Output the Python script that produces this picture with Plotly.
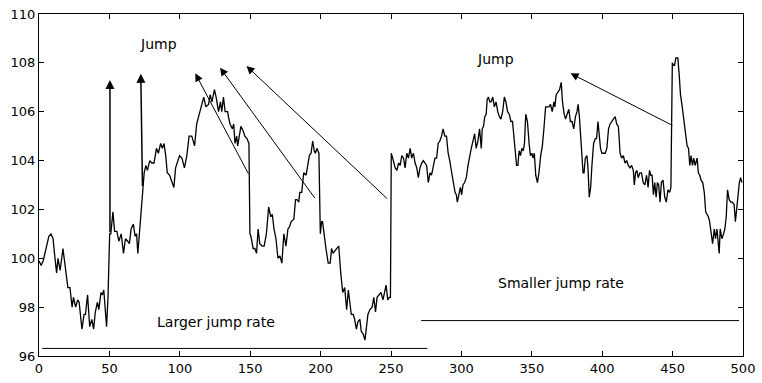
import plotly.graph_objects as go

# Simulated price path with jumps, stored in time segments
t1 = [0, 1.5, 3, 5, 7, 8.5, 10, 11, 12.5, 13.5,
      15, 17, 18.5, 20.5, 22, 23.5, 24.5, 26, 27.5, 28.5,
      30.5, 32, 33, 34.5, 36, 37.5, 38.8, 40, 41.5, 42.5,
      44, 45, 46, 47, 48, 49, 49.6]
p1 = [99.9, 99.7, 99.9, 100.4, 100.9, 101.0, 100.8, 100.2, 99.4, 100.0,
      99.5, 100.4, 99.7, 98.8, 98.8, 98.0, 98.4, 98.0, 98.3, 98.2,
      97.1, 97.7, 97.7, 98.5, 97.2, 97.5, 97.1, 97.8, 98.2, 97.9,
      98.6, 98.5, 98.7, 98.1, 97.2, 98.4, 99.7]

t2 = [50.2, 51, 52.5, 53.7, 55.3, 56.7, 58.4, 60, 61.4, 63,
      64.2, 65.4, 67, 68.3, 69.3, 70.2, 71.2, 72.3, 73.5, 74.7,
      75.9, 77, 78.7, 80.1, 81.7, 83.4, 84.8, 86.4, 87.6, 88.8,
      90, 91.1, 92.8, 94.2, 95.8, 97, 98.2, 99.8, 101.5, 103.3,
      105, 106.6, 108.5, 110.5, 112, 113, 115.3, 117, 118.5, 120.4,
      121.6, 122.8, 124.6, 125.8, 127.5, 128.9, 129.8, 131, 132.2, 134,
      134.5, 135.7, 137.3, 138.3, 139.2, 140.4, 141.1, 142.3, 143.4, 145.1,
      146.2, 147.7, 149.1]
p2 = [101.0, 101.0, 101.9, 101.1, 101.1, 100.7, 101.0, 100.2, 100.8, 100.7,
      100.6, 101.2, 101.4, 100.9, 101.0, 100.2, 101.0, 101.7, 102.5, 103.5,
      103.8, 103.6, 104.0, 103.9, 103.9, 104.5, 104.3, 104.7, 104.5, 104.7,
      104.2, 103.5, 103.4, 103.2, 102.9, 103.7, 103.9, 104.2, 104.1, 103.7,
      104.2, 105.0, 105.0, 104.6, 105.5, 105.7, 106.2, 106.6, 106.2, 106.3,
      106.7, 106.4, 106.9, 106.6, 106.0, 106.4, 106.0, 106.6, 106.0, 106.0,
      105.8, 105.5, 105.3, 105.5, 104.7, 105.0, 104.6, 105.0, 105.4, 105.2,
      105.0, 104.9, 104.7]

t3 = [149.8, 150.5, 152.1, 153.3, 154.5, 155.6, 156.8, 158.5, 159.9, 161.5,
      163.1, 164.6, 165.7, 166.9, 168.3, 169.7, 171.1, 172.5, 173.9, 175.4,
      176.8, 178, 179.1, 181, 182.2, 183.3, 184.5, 185.2, 186.6, 188,
      189.7, 190.8, 192, 193.2, 194.4, 195.5, 196.3, 197.4, 198.8, 199.8,
      200.7, 201.4, 202.6, 203.8, 205.4, 206.8, 207.8, 208.9, 210.1, 211.5,
      212.9, 214.3, 215.7, 217.1, 218.5, 219.7, 220.9, 221.8, 223.2, 224.2,
      225.4, 226.5, 227.9, 228.9, 230.3, 231.5, 232.4, 233.6, 235, 236.6,
      237.8, 239, 240.1, 241.5, 242.9, 244.3, 245.3, 246.5, 247.7, 248.8,
      249.6]
p3 = [101.0, 100.9, 100.4, 100.4, 100.2, 101.2, 100.6, 100.5, 100.5, 101.0,
      102.1, 101.7, 101.8, 101.2, 100.8, 100.0, 100.1, 99.8, 101.0, 100.5,
      101.2, 101.3, 101.5, 101.6, 102.4, 102.4, 102.3, 102.7, 102.7, 103.5,
      103.4, 103.8, 104.2, 104.3, 104.8, 104.4, 104.3, 104.5, 104.3, 101.0,
      101.5, 101.5, 100.8, 100.4, 99.8, 99.8, 100.4, 100.2, 100.3, 100.4,
      100.5, 99.4, 98.6, 98.8, 97.9, 98.7, 98.2, 97.7, 97.7, 97.5,
      97.1, 97.4, 97.5, 97.0, 96.9, 96.65, 97.1, 97.7, 97.9, 98.0,
      98.4, 97.8, 98.4, 98.5, 98.6, 98.3, 98.6, 98.9, 98.3, 98.4,
      98.4]

t4 = [250.2, 251.2, 253, 254.2, 255.4, 256.5, 257.7, 258.9, 260, 261.2,
      262.4, 263.6, 264.7, 265.9, 267.1, 268.3, 269.4, 270.6, 271.8, 273,
      274.1, 275.3, 276.5, 277.7, 278.8, 280, 281.2, 282.4, 283.5, 284.7,
      285.9, 287, 288.2, 289.4, 290.6, 291.7, 292.9, 293.6, 294.6, 295.5,
      296.4, 297.1, 298.3, 299.3, 300.2, 301.1, 302.3, 303.5, 304.7, 305.8,
      307, 308.2, 309.4, 310.5, 311.7, 312.9, 314.1, 314.8, 315.7, 316.6,
      317.6, 318.3, 319.2, 320.2, 321.1, 322.3, 323.4, 324.6, 325.8, 327,
      328.1, 329.3, 330.5, 331.6, 332.8, 334, 335.2, 336.3, 337.5, 338.2,
      339.2]
p4 = [104.3, 104.1, 103.7, 103.6, 103.9, 103.8, 104.2, 104.1, 103.7, 104.3,
      104.1, 104.5, 104.1, 104.3, 103.9, 103.7, 103.3, 103.7, 103.9, 104.0,
      103.9, 103.8, 103.1, 103.5, 103.4, 103.8, 104.1, 104.1, 104.7, 104.8,
      105.0, 105.3, 105.0, 105.0, 104.3, 104.0, 103.5, 103.3, 103.0, 102.7,
      102.6, 102.3, 102.7, 102.9, 102.6, 103.0, 103.1, 103.3, 103.8, 104.2,
      104.5, 104.8, 105.1, 104.5, 104.8, 105.3, 104.5, 105.3, 105.4, 105.8,
      105.9, 106.5, 106.6, 106.4, 106.4, 106.6, 106.2, 106.4, 106.0, 105.8,
      105.7, 106.0, 106.6, 106.4, 106.0, 105.9, 105.6, 105.6, 104.7, 104.2,
      103.8]

t5 = [340.1, 341, 342, 342.9, 343.9, 344.8, 345.7, 346.9, 348.1, 349,
      350, 350.9, 351.8, 352.8, 354, 355.1, 356.3, 357.5, 358.6, 359.8,
      361, 362.2, 363.3, 364.5, 365.7, 366.4, 367.3, 368.7, 369.7, 370.9,
      371.8, 373, 374, 375.1, 376.3, 377.4, 378.6, 379.8, 381, 382.1,
      382.9, 383.8, 384.7, 385.7, 386.4, 387.1, 388, 389.2, 389.9, 390.8,
      391.8, 392.7, 393.9, 395.1, 396, 397, 397.9, 398.8, 399.8, 401,
      402.1, 403.3, 404.5, 405.6, 406.8, 408, 409.2, 410.3, 411.5, 412.7,
      413.8, 415, 416.2, 417.4, 418.5, 419.7, 420.9, 422.1, 422.8, 423.7,
      424.6, 425.6, 426.8, 427.9, 429.1, 430.3, 431.5, 432.6, 433.6, 434.5,
      435.4, 436.4, 437.3, 438.3, 439.2, 440.1, 441.1, 442, 443.2, 444.4,
      445.5, 446.7, 447.9, 448.8]
p5 = [103.8, 104.4, 104.2, 104.5, 104.4, 104.7, 105.9, 105.6, 104.7, 104.2,
      104.3, 104.1, 104.3, 103.4, 103.1, 103.5, 104.2, 104.6, 105.3, 106.2,
      106.2, 106.2, 106.3, 106.0, 106.4, 106.2, 106.7, 106.8, 106.9, 107.2,
      106.4, 105.9, 105.7, 105.9, 106.1, 105.6, 105.6, 105.3, 105.8, 106.0,
      106.3, 105.8, 105.1, 104.1, 103.5, 103.5, 104.1, 104.2, 103.7, 102.5,
      102.9, 103.8, 104.7, 104.9, 104.9, 105.6, 104.9, 104.5, 104.3, 104.3,
      104.3, 104.5, 105.3, 105.5, 105.6, 105.7, 105.8, 105.5, 105.4, 104.3,
      104.1, 104.2, 103.9, 104.0, 103.8, 103.7, 103.8, 103.6, 103.0, 103.5,
      103.6, 103.3, 103.5, 103.5, 103.1, 103.0, 103.4, 102.9, 103.6, 103.4,
      103.4, 102.6, 103.1, 102.5, 103.1, 103.0, 102.3, 103.1, 103.2, 102.5,
      102.3, 102.8, 102.7, 102.9]

t6 = [449.3, 449.8, 450.5, 451.4, 452.3, 453.7, 454.7, 455.6, 456.6, 457.5,
      458.4, 459.4, 460.3, 461.3, 462.2, 463.1, 464.1, 465, 466, 467.4,
      468.3, 469.3, 470.2, 471.4, 472.5, 473.5, 474.4, 475.4, 476.3, 477.2,
      478.4, 479.6, 480.5, 481.5, 482.4, 483.1, 483.8, 485, 486.2, 487.1,
      488.1, 489, 490.2, 491.3, 492.5, 493.7, 494.6, 495.5, 496.5, 497.4,
      498.3, 499.2]
p6 = [106.3, 108.0, 107.9, 107.9, 108.2, 108.2, 107.5, 106.7, 106.3, 105.9,
      105.5, 105.0, 104.6, 104.5, 103.8, 104.2, 103.8, 104.1, 103.8, 104.1,
      103.5, 103.4, 103.2, 103.1, 102.7, 101.9, 101.8, 101.7, 101.5, 101.0,
      100.6, 101.2, 100.8, 101.2, 100.5, 100.2, 101.2, 100.8, 101.0, 101.2,
      101.7, 102.8, 102.4, 102.3, 102.3, 102.2, 101.5, 102.1, 102.6, 103.1,
      103.3, 103.1]

time = t1 + t2 + t3 + t4 + t5 + t6
price = p1 + p2 + p3 + p4 + p5 + p6

# Jump-rate regime bars
larger_rate_t = [2.3, 275.8]
larger_rate_p = [96.31, 96.31]
smaller_rate_t = [271.4, 497.2]
smaller_rate_p = [97.45, 97.45]

# Arrows pointing from the jumps to the "Jump" labels
arrow_tail_t = [50.4, 73.5, 149.3, 196.7, 248.4, 450.9]
arrow_tail_p = [101.0, 102.9, 103.4, 102.4, 102.38, 105.41]
arrow_tip_t = [50.4, 72.3, 111.0, 128.6, 147.4, 377.5]
arrow_tip_p = [107.3, 107.55, 107.57, 107.8, 107.87, 107.57]
arrow_widths = [1.5, 1.5, 1, 1, 1, 1]

label_text = ["Jump", "Jump", "Larger jump rate", "Smaller jump rate"]
label_t = [85, 324, 126, 370.4]
label_p = [108.77, 108.17, 97.38, 98.97]

x_ticks = [0, 50, 100, 150, 200, 250, 300, 350, 400, 450, 500]
y_ticks = [96, 98, 100, 102, 104, 106, 108, 110]

FONT = "DejaVu Sans"

fig = go.Figure()
fig.add_trace(go.Scatter(x=time, y=price, mode="lines",
                         line=dict(color="black", width=1.3),
                         showlegend=False, hoverinfo="skip"))
fig.add_trace(go.Scatter(x=larger_rate_t, y=larger_rate_p, mode="lines",
                         line=dict(color="black", width=1),
                         showlegend=False, hoverinfo="skip"))
fig.add_trace(go.Scatter(x=smaller_rate_t, y=smaller_rate_p, mode="lines",
                         line=dict(color="black", width=1),
                         showlegend=False, hoverinfo="skip"))

annotations = []
for tx, ty, hx, hy, w in zip(arrow_tail_t, arrow_tail_p, arrow_tip_t,
                             arrow_tip_p, arrow_widths):
    annotations.append(dict(
        x=hx, y=hy, ax=tx, ay=ty, xref="x", yref="y", axref="x", ayref="y",
        text="", showarrow=True, arrowhead=2, arrowsize=1.6 if w < 1.2 else 1.2,
        arrowwidth=w, arrowcolor="black", standoff=0, startstandoff=0))
for txt, lx, ly in zip(label_text, label_t, label_p):
    annotations.append(dict(
        x=lx, y=ly, xref="x", yref="y", text=txt, showarrow=False,
        font=dict(family=FONT, size=14, color="black"),
        xanchor="center", yanchor="middle"))

axis_common = dict(showgrid=False, zeroline=False, showline=True,
                   linecolor="black", linewidth=1.2, mirror="ticks",
                   ticks="inside", ticklen=5, tickcolor="black", tickwidth=1,
                   tickfont=dict(family=FONT, size=13, color="black"))

fig.update_layout(
    width=762, height=383,
    margin=dict(l=39, r=13, t=7, b=23),
    paper_bgcolor="white", plot_bgcolor="white",
    xaxis=dict(range=[0, 500], tickvals=x_ticks, **axis_common),
    yaxis=dict(range=[96, 110], tickvals=y_ticks, **axis_common),
    annotations=annotations,
)

fig.write_html("out.html")
